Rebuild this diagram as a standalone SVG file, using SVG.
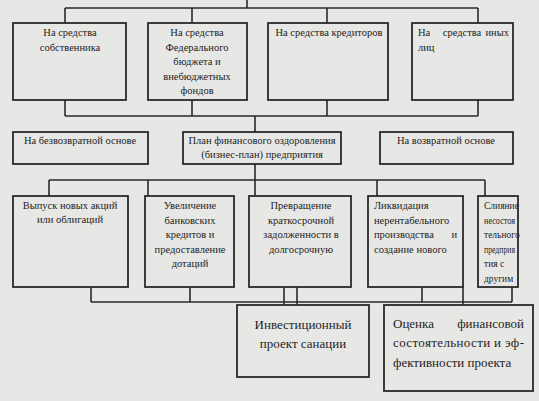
<svg xmlns="http://www.w3.org/2000/svg" width="539" height="401" viewBox="0 0 539 401" font-family="'Liberation Serif', 'DejaVu Serif', serif">
<style>
.bx{fill:none;stroke:#2a2a2a;stroke-width:1.8}
.ln{fill:none;stroke:#2a2a2a;stroke-width:1.6}
.t{font-family:'Liberation Serif','DejaVu Serif',serif;fill:#1e1e1e}
.s{font-size:10.5px}
.x{font-size:9.5px}
.c{text-anchor:middle}
.e{text-anchor:end}
.b{font-size:13px}
</style>
<rect width="539" height="401" fill="#e7e7e5"/>
<g id="connectors" class="ln">
<path d="M247,0V8M65,8H478M65,8V23M192,8V23M327,8V23M478,8V23"/>
<path d="M65,100V116M192,100V116M327,100V116M478,100V116M65,116H478M255,116V132"/>
<path d="M255,164V196M49,180H485M49,180V196M148,180V196M377,180V196M485,180V196"/>
<path d="M91,287V302M190,287V302M91,302H512M284,287V305M297,287V305M422,287V302M463,287V305M512,287V302"/>
</g>
<g id="n1" class="t"><rect class="bx" x="13" y="23" width="113" height="77"/>
<text class="s c" x="70" y="36">На средства</text><text class="s c" x="70" y="51">собственника</text></g>
<g id="n2" class="t"><rect class="bx" x="148" y="23" width="99" height="77"/>
<text class="s c" x="197" y="36">На средства</text><text class="s c" x="197" y="50.5">Федерального</text><text class="s c" x="197" y="65">бюджета и</text><text class="s c" x="197" y="79.5">внебюджетных</text><text class="s c" x="197" y="94">фондов</text></g>
<g id="n3" class="t"><rect class="bx" x="268" y="23" width="120" height="77"/>
<text class="s c" x="329" y="36">На средства кредиторов</text></g>
<g id="n4" class="t"><rect class="bx" x="412" y="23" width="101" height="77"/>
<text class="s" x="418" y="36">На</text><text class="s c" x="462" y="36">средства</text><text class="s e" x="509" y="36">иных</text><text class="s" x="418" y="51">лиц</text></g>
<g id="n5" class="t"><rect class="bx" x="13" y="132" width="135" height="32"/>
<text class="s c" x="80" y="144">На безвозвратной основе</text></g>
<g id="n6" class="t"><rect class="bx" x="183" y="132" width="158" height="32"/>
<text class="s c" x="262" y="144">План финансового оздоровления</text><text class="s c" x="262" y="158">(бизнес-план) предприятия</text></g>
<g id="n7" class="t"><rect class="bx" x="380" y="132" width="133" height="32"/>
<text class="s c" x="446" y="144">На возвратной основе</text></g>
<g id="n8" class="t"><rect class="bx" x="13" y="196" width="115" height="91"/>
<text class="s c" x="70" y="209">Выпуск новых акций</text><text class="s c" x="70" y="223">или облигаций</text></g>
<g id="n9" class="t"><rect class="bx" x="145" y="196" width="89" height="91"/>
<text class="s c" x="190" y="209">Увеличение</text><text class="s c" x="190" y="223.5">банковских</text><text class="s c" x="190" y="238">кредитов и</text><text class="s c" x="190" y="252.5">предоставление</text><text class="s c" x="190" y="267">дотаций</text></g>
<g id="n10" class="t"><rect class="bx" x="249" y="196" width="102" height="91"/>
<text class="s c" x="301" y="209">Превращение</text><text class="s c" x="301" y="223.5">краткосрочной</text><text class="s c" x="301" y="238">задолженности в</text><text class="s c" x="301" y="252.5">долгосрочную</text></g>
<g id="n11" class="t"><rect class="bx" x="368" y="196" width="95" height="91"/>
<text class="s" x="374" y="209">Ликвидация</text><text class="s" x="374" y="223.5">нерентабельного</text><text class="s" x="374" y="238">производства</text><text class="s e" x="457" y="238">и</text><text class="s" x="374" y="252.5">создание нового</text></g>
<g id="n12" class="t"><rect class="bx" x="478" y="196" width="40" height="91"/>
<text class="x" x="484" y="209">Слияние</text><text class="x" x="484" y="223.5" textLength="31" lengthAdjust="spacingAndGlyphs">несостоя</text><text class="x" x="484" y="238">тельного</text><text class="x" x="484" y="252.5" textLength="31" lengthAdjust="spacingAndGlyphs">предприя</text><text class="x" x="484" y="267">тия с</text><text class="x" x="484" y="281.5">другим</text></g>
<g id="n13" class="t"><rect class="bx" x="237" y="305" width="132" height="72"/>
<text class="b c" x="303" y="329">Инвестиционный</text><text class="b c" x="303" y="348">проект санации</text></g>
<g id="n14" class="t"><rect class="bx" x="384" y="305" width="149" height="86"/>
<text class="b" x="393" y="328">Оценка</text><text class="b e" x="524" y="328">финансовой</text>
<text class="b" x="393" y="347" textLength="131" lengthAdjust="spacing">состоятельности и эф-</text>
<text class="b" x="393" y="367">фективности проекта</text></g>
</svg>
